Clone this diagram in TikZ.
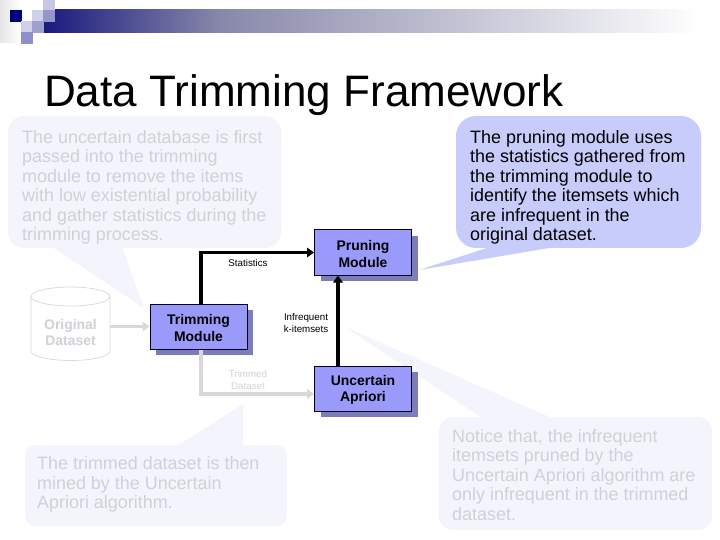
\documentclass[tikz,border=0pt]{standalone}
\usepackage{fontspec}
\setmainfont{Liberation Sans}
\usetikzlibrary{arrows.meta,shadows,calc}
\definecolor{barA}{HTML}{1A1A80}
\definecolor{barM}{HTML}{8888AA}
\definecolor{faint}{HTML}{F4F5FC}
\definecolor{bubble}{HTML}{C8CCFA}
\definecolor{ghost}{HTML}{D0D1D6}
\definecolor{ghostline}{HTML}{D8D8D8}
\definecolor{modfill}{HTML}{9A9AFA}
\definecolor{modshadow}{HTML}{7C7CB8}
\newcommand{\modtop}{\rule{0pt}{13bp}}
\tikzset{
  x=1bp,y=-1bp,
  modulebox/.style={draw=black!85!blue,line width=1bp,fill=modfill,minimum width=97bp,minimum height=45bp,
    inner sep=0pt,align=center,font=\fontsize{14}{16.8}\selectfont\bfseries,
    copy shadow={shadow xshift=6bp,shadow yshift=-6bp,fill=modshadow,draw=none}},
  bubbletext/.style={anchor=north west,inner sep=0pt,align=left,font=\fontsize{18}{19.6}\selectfont},
  smalllabel/.style={inner sep=0pt,align=center,font=\fontsize{9.8}{12}\selectfont},
  flow/.style={line width=3.4bp,-{Triangle[length=7bp,width=9.5bp]}},
  ghostflow/.style={flow,draw=ghostline},
  sq/.style={draw=none}
}
\begin{document}
\begin{tikzpicture}
\useasboundingbox (0,0) rectangle (720,540);
% header decoration
\fill[left color=barA,right color=barM] (44,10) rectangle (220,33);
\fill[left color=barM,right color=white] (220,10) rectangle (700,33);
\fill[left color=blue!10!black!10!white,right color=white] (0,0) rectangle (20,43);
\fill[sq,fill=black!0!blue!50!black] (10,10) rectangle (22,22);
\fill[sq,fill=white] (22,0) rectangle (43,21);
\fill[sq,fill={rgb,255:red,200;green,200;blue,228}] (43,0) rectangle (55,10);
\fill[sq,fill={rgb,255:red,208;green,208;blue,232}] (32,10) rectangle (43,21);
\fill[sq,fill={rgb,255:red,150;green,150;blue,204}] (43,10) rectangle (55,22);
\fill[sq,fill={rgb,255:red,208;green,208;blue,232}] (21,21) rectangle (32,32);
\fill[sq,fill={rgb,255:red,160;green,160;blue,208}] (32,21) rectangle (44,33);
\fill[sq,fill={rgb,255:red,144;green,144;blue,200}] (21,32) rectangle (33,44);
% title
\node[anchor=base west,inner sep=0pt,font=\fontsize{44.2}{50}\selectfont] (title) at (44,107) {Data Trimming Framework};
% callout backgrounds
\fill[faint,rounded corners=16bp] (8,116) rectangle (281,248);
\fill[faint] (52,247) -- (144,308) -- (122,247) -- cycle;
\fill[bubble,rounded corners=20bp] (456,116) rectangle (701,248);
\fill[bubble] (490,247) -- (419,270) -- (555,247) -- cycle;
\fill[faint,rounded corners=10bp] (25,445) rectangle (287,526);
\fill[faint] (177,446) -- (243,404) -- (243,446) -- cycle;
\fill[faint,rounded corners=14bp] (439,417) rectangle (712,530);
\fill[faint] (482,418) -- (345,327) -- (552,418) -- cycle;
% callout texts
\node[bubbletext,text=ghost] (noteA) at (22,130) {The uncertain database is first\\passed into the trimming\\module to remove the items\\with low existential probability\\and gather statistics during the\\trimming process.};
\node[bubbletext] (noteB) at (470,130) {The pruning module uses\\the statistics gathered from\\the trimming module to\\identify the itemsets which\\are infrequent in the\\original dataset.};
\node[bubbletext,text=ghost] (noteC) at (37,456.5) {The trimmed dataset is then\\mined by the Uncertain\\Apriori algorithm.};
\node[bubbletext,text=ghost] (noteD) at (452,429) {Notice that, the infrequent\\itemsets pruned by the\\Uncertain Apriori algorithm are\\only infrequent in the trimmed\\dataset.};
% database cylinder
\draw[ghostline,line width=0.7bp,fill=white]
  (31,296.5) -- (31,351) arc[start angle=180,end angle=360,x radius=39.5bp,y radius=9.5bp]
  -- (110,296.5) arc[start angle=0,end angle=180,x radius=39.5bp,y radius=9.5bp] -- cycle;
\draw[ghostline,line width=0.7bp] (31,296.5) arc[start angle=180,end angle=360,x radius=39.5bp,y radius=9.5bp];
\node[align=center,inner sep=0pt,text=ghost,font=\fontsize{14}{17}\selectfont\bfseries] (orig) at (70.5,332.5) {Original\\Dataset};
\coordinate (origout) at (110,326.5);
% nodes
\node[modulebox] (trim) at (198.5,326.5) {\modtop Trimming\\Module};
\node[modulebox] (prune) at (363,252.5) {\modtop Pruning\\Module};
\node[modulebox] (unc) at (363,388.5) {\modtop Uncertain\\Apriori};
% connectors
\draw[ghostflow] (origout) -- (trim.west);
\draw[ghostflow] ([xshift=2.5bp]trim.south) |- ([yshift=-5.5bp]unc.west);
\draw[flow] ([xshift=2.5bp]trim.north) |- (prune.west);
\draw[flow] ([xshift=-25bp]unc.north) -- ([xshift=-25bp]prune.south);
% labels
\node[smalllabel] (lstat) at (248,263) {Statistics};
\node[smalllabel,text=ghost] (ltrim) at (248,380) {Trimmed\\Dataset};
\node[smalllabel] (linf) at (306,323) {Infrequent\\k-itemsets};
\end{tikzpicture}
\end{document}
